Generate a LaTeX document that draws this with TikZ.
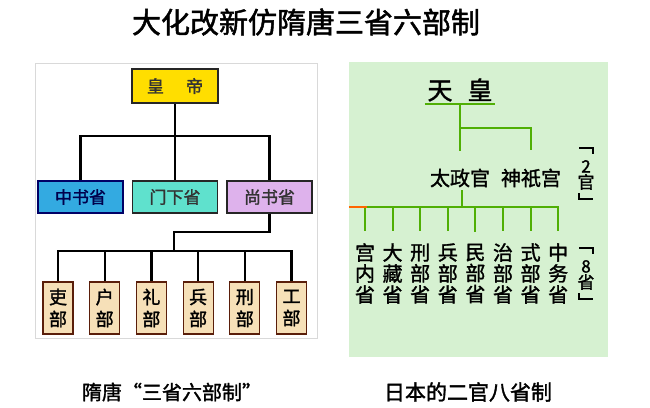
\documentclass[tikz,border=0pt]{standalone}
\usepackage{fontspec}
\setmainfont{Noto Sans CJK SC}[AutoFakeBold=1.6]
\definecolor{emperor}{RGB}{255, 222, 0}
\definecolor{zhongshu}{RGB}{51, 170, 225}
\definecolor{menxia}{RGB}{95, 225, 205}
\definecolor{shangshu}{RGB}{222, 178, 236}
\definecolor{bureau}{RGB}{246, 224, 184}
\definecolor{bureauedge}{RGB}{90, 30, 10}
\definecolor{jpbg}{RGB}{214, 241, 209}
\definecolor{jpgreen}{RGB}{80, 175, 5}
\usetikzlibrary{positioning, calc}
\tikzset{
    govbox/.style={
        rectangle,
        draw=black!85,
        line width=1.2pt,
        minimum width=85pt,
        minimum height=32pt,
        inner sep=0pt,
        align=center,
        font=\fontsize{17}{17}\selectfont\bfseries
    },
    deptbox/.style={
        rectangle,
        draw=bureauedge,
        fill=bureau,
        line width=1.2pt,
        minimum width=30pt,
        minimum height=52pt,
        inner sep=0pt,
        align=center,
        font=\fontsize{18}{22}\selectfont\bfseries
    },
    jptext/.style={inner sep=0pt, align=center, font=\fontsize{20}{21}\selectfont\bfseries},
    treeline/.style={line width=2.4pt, color=black},
    jpline/.style={line width=2pt, color=jpgreen},
    bracketline/.style={line width=2.6pt, color=black, line join=miter}
}
\begin{document}
\begin{tikzpicture}[x=1pt, y=-1pt]
      \useasboundingbox (0,0) rectangle (650,407);
      \node[font=\fontsize{29}{29}\selectfont\bfseries] (title) at (306,22) {大化改新仿隋唐三省六部制};

      \draw[black!15, line width=0.8pt] (35,63) rectangle (317,338);
      \node[govbox, fill=emperor, minimum width=86pt, minimum height=34pt, text=black!80] (huangdi) at (175,86) {皇\hspace{1.3em}帝};
      \node[govbox, fill=zhongshu, draw=blue!40!black, text=blue!30!black] (zhongshu) at (80.5,197) {中书省};
      \node[govbox, fill=menxia, text=black!80] (menxia) at (175,197) {门下省};
      \node[govbox, fill=shangshu, text=black!80] (shangshu) at (269.5,197) {尚书省};
      \foreach \dept [count=\i] in {吏,户,礼,兵,刑,工}
        \node[deptbox] (b\i) at ({58+46.7*(\i-1)},308) {\dept\\部};

      \coordinate (hbus) at (175,136);
      \coordinate (lbend) at (174,232);
      \coordinate (lbus) at (174,251);
      \draw[treeline] (huangdi) -- (menxia);
      \draw[treeline] (zhongshu.north) |- (hbus) -| (shangshu.north);
      \draw[treeline] (shangshu.south) |- (lbend) -- (lbus);
      \foreach \i in {1,...,6}
        \draw[treeline] (lbus) -| (b\i.north);

      \node[fill=jpbg, minimum width=259pt, minimum height=295pt, inner sep=0pt] (jppanel) at (478.5,209.5) {};
      \node[font=\fontsize{25}{25}\selectfont\bfseries, minimum width=70pt, inner sep=2pt] (tenno) at (460,90) {天\hspace{0.6em}皇};
      \node[jptext] (daijo) at (460,178) {太政官};
      \node[jptext] (jingi) at (531,178) {神祇宫};
      \foreach \office [count=\i] in {宫\\内\\省,大\\藏\\省,刑\\部\\省,兵\\部\\省,民\\部\\省,治\\部\\省,式\\部\\省,中\\务\\省}
        \node[jptext] (c\i) at ({365+27.6*(\i-1)},273.5) {\office};
      \node[jptext, font=\fontsize{17}{16}\selectfont\bfseries] (twokan) at (586,175) {2\\官};
      \node[jptext, font=\fontsize{17}{16}\selectfont\bfseries] (eightsho) at (586,275) {8\\省};
      \foreach \lbl in {twokan, eightsho} {
        \draw[bracketline] ($(\lbl.north)+(-7,-12)$) -- ++(14,0) -- ++(0,6);
        \draw[bracketline] ($(\lbl.south)+(-7,3)$) -- ++(0,6) -- ++(14,0);
      }

      \coordinate (tbranch) at (460,128);
      \coordinate (jbus) at (462,207);
      \draw[jpline] (tenno.south west) -- (tenno.south east);
      \draw[jpline, shorten >=18pt] (tenno.south) -- (daijo.north);
      \draw[jpline, shorten >=18pt] (tbranch) -| (jingi.north);
      \draw[jpline, shorten <=3pt] (daijo.south -| jbus) -- (jbus);
      \draw[jpline] (jbus) -- (jbus -| jppanel.west);
      \foreach \i in {1,...,8}
        \draw[jpline, shorten >=12pt] (jbus) -| (c\i.north);
      \draw[line width=2pt, orange!80!red] (jbus -| jppanel.west) -- ++(18,0);

      \node[font=\fontsize{20}{20}\selectfont\bfseries] (capsui) at (172,392) {隋唐\makebox[1em][r]{“}三省六部制\makebox[1em][l]{”}};
      \node[font=\fontsize{21}{21}\selectfont\bfseries] (capjp) at (468,392) {日本的二官八省制};
    \end{tikzpicture}
\end{document}
